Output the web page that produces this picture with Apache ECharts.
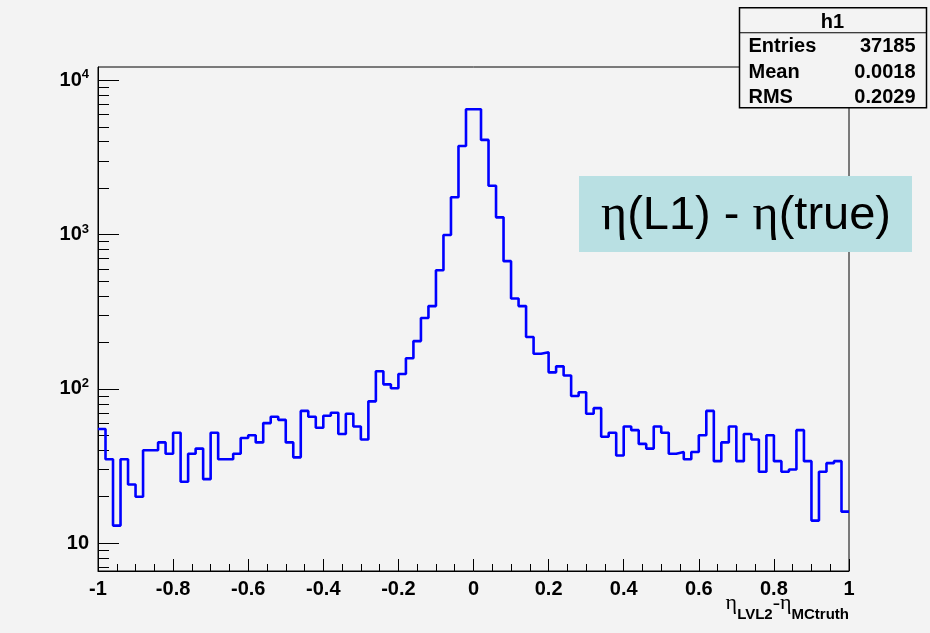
<!DOCTYPE html>
<html><head><meta charset="utf-8">
<script src="https://cdn.jsdelivr.net/npm/echarts@6/dist/echarts.min.js"></script>
<style>html,body{margin:0;padding:0;background:#f3f3f3}#c{width:930px;height:633px}</style>
</head><body><div id="c"></div>
<script>
// histogram definition
const xMin = -1, xMax = 1, nBins = 100;
// bin contents
const counts = [55,35,13,35,24,20,40,40,45,38,52,25,38,41,26,52,35,35,38,48,
  50,45,60,66,63,45,36,72,66,56,67,70,51,69,57,47,83,130,107,101,
  125,158,204,288,344,587,993,1745,3756,6500,6500,4111,2075,1294,673,385,344,217,169,173,
  128,140,122,90,95,69,75,49,52,37,57,54,44,41,57,52,38,39,35,39,
  50,72,34,45,57,34,51,47,29,50,34,29,30,54,34,14,29,33,34,16];
const yMinorMult = [2,3,4,5,6,7,8,9];   // minor ticks k*10^n
const yRange = [6.6, 12200];
const statsTitle = 'h1';
const statsLabels = ['Entries','Mean','RMS'];
const statsValues = ['37185','0.0018','0.2029'];
const xTitle = '{e|η}{s|LVL2}{e|-η}{s|MCtruth}';
const annotation = '{g|η}(L1) - {g|η}(true)';

const lg = v => Math.log10(v);
const binW = (xMax - xMin) / nBins;
const stepData = counts.map((c, i) => [xMin + i * binW, lg(c)]);
stepData.push([xMax, lg(counts[counts.length - 1])]);

const yMin = lg(yRange[0]), yMax = lg(yRange[1]);
const majorVals = [];
for (let n = 0; n <= 5; n++) { if (n >= yMin && n <= yMax) majorVals.push(n); }
const minorVals = [];
for (let n = 0; n <= 4; n++) for (const k of yMinorMult) { const v = lg(k * Math.pow(10, n)); if (v >= yMin && v <= yMax) minorVals.push(v); }

const FONT = 'Liberation Sans';
const chart = echarts.init(document.getElementById('c'));
chart.setOption({
  backgroundColor: '#f3f3f3',
  animation: false,
  grid: { left: 98, right: 81, top: 67, bottom: 62, outerBoundsMode: 'none', containLabel: false,
          show: true, borderColor: '#000', borderWidth: 1, backgroundColor: '#f3f3f3' },
  xAxis: {
    type: 'value', min: xMin, max: xMax, interval: 0.2,
    axisLine: { show: true, onZero: false, lineStyle: { color: '#000', width: 1 } },
    axisTick: { show: true, inside: true, length: 12, lineStyle: { color: '#000' } },
    minorTick: { show: true, splitNumber: 4, length: 7, lineStyle: { color: '#000' } },
    splitLine: { show: false },
    axisLabel: { color: '#000', fontFamily: FONT, fontWeight: 'bold', fontSize: 20, margin: 8 }
  },
  yAxis: [{
    type: 'value', min: yMin, max: yMax,
    axisLine: { show: true, onZero: false, lineStyle: { color: '#000', width: 1 } },
    axisTick: { show: true, inside: true, length: 21, customValues: majorVals, lineStyle: { color: '#000' } },
    splitLine: { show: false },
    axisLabel: {
      customValues: majorVals, margin: 9,
      formatter: v => Math.round(v) === 1 ? '{b|10}' : '{b|10}{p|' + Math.round(v) + '}',
      rich: {
        b: { fontFamily: FONT, fontWeight: 'bold', fontSize: 20, color: '#000', lineHeight: 24 },
        p: { fontFamily: FONT, fontWeight: 'bold', fontSize: 13, color: '#000', lineHeight: 13, verticalAlign: 'top' }
      }
    }
  }, {
    type: 'value', min: yMin, max: yMax, position: 'left',
    axisLine: { show: false, onZero: false },
    axisTick: { show: true, inside: true, length: 11, customValues: minorVals, lineStyle: { color: '#000' } },
    axisLabel: { show: false },
    splitLine: { show: false }
  }],
  series: [{
    type: 'line', step: 'end', data: stepData, showSymbol: false, symbol: 'none',
    lineStyle: { color: '#0000ff', width: 2.6 }, clip: true
  }],
  graphic: [
    { type: 'text', right: 81, top: 592, style: {
      text: xTitle,
      rich: {
        e: { fontFamily: 'Liberation Serif', fontSize: 22, fill: '#000', lineHeight: 30, verticalAlign: 'top' },
        s: { fontFamily: FONT, fontWeight: 'bold', fontSize: 15, fill: '#000', lineHeight: 30, verticalAlign: 'bottom' }
      }
    } },
    { type: 'group', left: 737, top: 7, children: [
      { type: 'rect', shape: { x: 0, y: 0, width: 187, height: 100 }, style: { fill: '#f3f3f3', stroke: '#000', lineWidth: 1.5 } },
      { type: 'line', shape: { x1: 0, y1: 25, x2: 187, y2: 25 }, style: { stroke: '#000', lineWidth: 1 } },
      { type: 'text', x: 93, y: 15, style: { text: statsTitle, fontFamily: FONT, fontWeight: 'bold', fontSize: 20, fill: '#000', align: 'center', verticalAlign: 'middle' } },
      ...statsLabels.map((t, i) => ({ type: 'text', x: 9, y: 39 + i * 25.5, style: { text: t, fontFamily: FONT, fontWeight: 'bold', fontSize: 20, fill: '#000', align: 'left', verticalAlign: 'middle' } })),
      ...statsValues.map((t, i) => ({ type: 'text', x: 176, y: 39 + i * 25.5, style: { text: t, fontFamily: FONT, fontWeight: 'bold', fontSize: 20, fill: '#000', align: 'right', verticalAlign: 'middle' } }))
    ]},
    { type: 'group', left: 579, top: 176, children: [
      { type: 'rect', shape: { x: 0, y: 0, width: 333, height: 76 }, style: { fill: '#b9e0e3' } },
      { type: 'text', x: 167, y: 40, style: {
        text: annotation, align: 'center', verticalAlign: 'middle',
        fontFamily: FONT, fontSize: 47, fill: '#000',
        rich: { g: { fontFamily: 'Liberation Serif', fontSize: 50, fill: '#000' } }
      } }
    ]}
  ]
});
</script></body></html>
